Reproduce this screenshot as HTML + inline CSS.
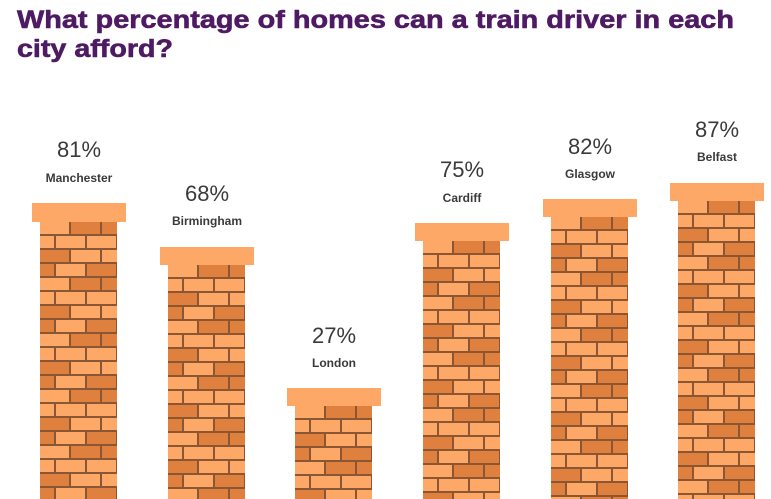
<!DOCTYPE html>
<html><head><meta charset="utf-8"><style>
html,body{margin:0;padding:0;background:#fff;}
svg{display:block;}
</style></head><body>
<svg width="771" height="499" viewBox="0 0 771 499" xmlns="http://www.w3.org/2000/svg">
<defs>
<pattern id="b" patternUnits="userSpaceOnUse" width="93" height="56">
<rect width="93" height="56" fill="#8a5634"/>
<rect x="0" y="0" width="29" height="12" fill="#fda866"/>
<rect x="31" y="0" width="29" height="12" fill="#e0803f"/>
<rect x="62" y="0" width="29" height="12" fill="#e0803f"/>
<rect x="-15" y="14" width="29" height="12" fill="#fda866"/>
<rect x="16" y="14" width="29" height="12" fill="#fda866"/>
<rect x="47" y="14" width="29" height="12" fill="#fda866"/>
<rect x="78" y="14" width="29" height="12" fill="#fda866"/>
<rect x="0" y="28" width="29" height="12" fill="#e0803f"/>
<rect x="31" y="28" width="29" height="12" fill="#fda866"/>
<rect x="62" y="28" width="29" height="12" fill="#fda866"/>
<rect x="-15" y="42" width="29" height="12" fill="#e0803f"/>
<rect x="16" y="42" width="29" height="12" fill="#fda866"/>
<rect x="47" y="42" width="29" height="12" fill="#e0803f"/>
<rect x="78" y="42" width="29" height="12" fill="#e0803f"/>
</pattern>
</defs>
<g font-family="Liberation Sans, sans-serif" font-weight="bold" font-size="25" fill="#4e1a63">
<text x="17" y="28" textLength="717" lengthAdjust="spacingAndGlyphs" stroke="#4e1a63" stroke-width="0.6">What percentage of homes can a train driver in each</text>
<text x="17" y="57" textLength="156" lengthAdjust="spacingAndGlyphs" stroke="#4e1a63" stroke-width="0.6">city afford?</text>
</g>
<g font-family="Liberation Sans, sans-serif" text-anchor="middle" fill="#3a3a3a">
<g transform="translate(32,0)">
<g transform="translate(8,222)"><rect x="0" y="0" width="77" height="277" fill="url(#b)"/></g>
<rect x="0" y="203" width="94" height="19" fill="#fda866"/>
<text x="47" y="157" font-size="22">81%</text>
<text x="47" y="182" font-size="12" font-weight="bold">Manchester</text>
</g>
<g transform="translate(160,0)">
<g transform="translate(8,265)"><rect x="0" y="0" width="77" height="234" fill="url(#b)"/></g>
<rect x="0" y="247" width="94" height="18" fill="#fda866"/>
<text x="47" y="201" font-size="22">68%</text>
<text x="47" y="225" font-size="12" font-weight="bold">Birmingham</text>
</g>
<g transform="translate(287,0)">
<g transform="translate(8,406)"><rect x="0" y="0" width="77" height="93" fill="url(#b)"/></g>
<rect x="0" y="388" width="94" height="18" fill="#fda866"/>
<text x="47" y="343" font-size="22">27%</text>
<text x="47" y="367" font-size="12" font-weight="bold">London</text>
</g>
<g transform="translate(415,0)">
<g transform="translate(8,241)"><rect x="0" y="0" width="77" height="258" fill="url(#b)"/></g>
<rect x="0" y="223" width="94" height="18" fill="#fda866"/>
<text x="47" y="177" font-size="22">75%</text>
<text x="47" y="202" font-size="12" font-weight="bold">Cardiff</text>
</g>
<g transform="translate(543,0)">
<g transform="translate(8,217)"><rect x="0" y="0" width="77" height="282" fill="url(#b)"/></g>
<rect x="0" y="199" width="94" height="18" fill="#fda866"/>
<text x="47" y="154" font-size="22">82%</text>
<text x="47" y="178" font-size="12" font-weight="bold">Glasgow</text>
</g>
<g transform="translate(670,0)">
<g transform="translate(8,201)"><rect x="0" y="0" width="77" height="298" fill="url(#b)"/></g>
<rect x="0" y="183" width="94" height="18" fill="#fda866"/>
<text x="47" y="137" font-size="22">87%</text>
<text x="47" y="161" font-size="12" font-weight="bold">Belfast</text>
</g>
</g>
</svg>
</body></html>
